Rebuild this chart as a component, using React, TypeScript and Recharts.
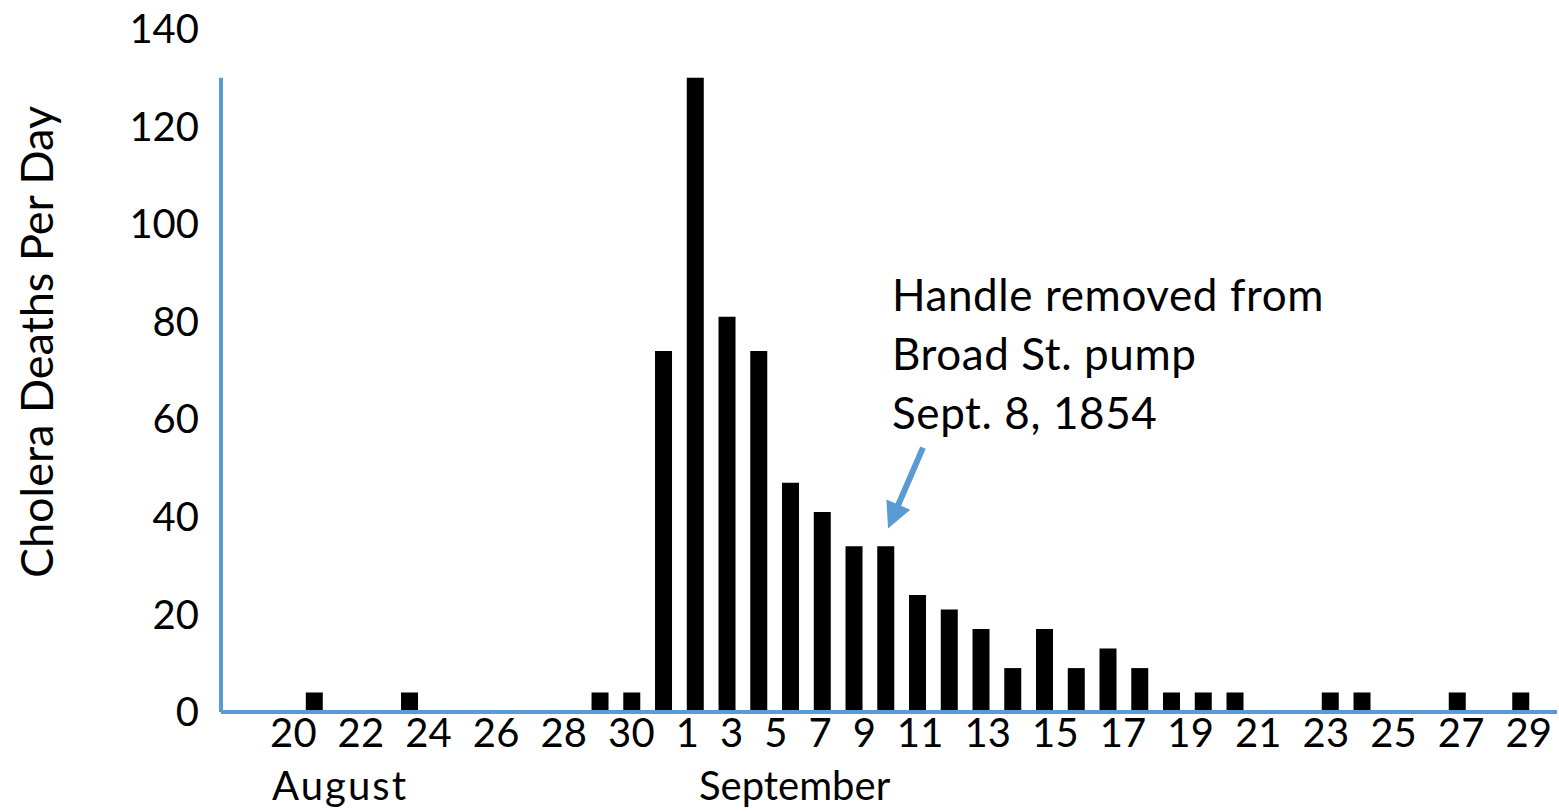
import { BarChart, Bar, XAxis, YAxis, ReferenceLine } from 'recharts'

// bars; day = day number counted from Aug 1 (Sep n = 31 + n)
const dates = [
  'Aug 20', 'Aug 23', 'Aug 29', 'Aug 30', 'Aug 31',
  'Sep 1', 'Sep 2', 'Sep 3', 'Sep 4', 'Sep 5', 'Sep 6', 'Sep 7', 'Sep 8', 'Sep 9',
  'Sep 10', 'Sep 11', 'Sep 12', 'Sep 13', 'Sep 14', 'Sep 15', 'Sep 16', 'Sep 17', 'Sep 18',
  'Sep 21', 'Sep 22', 'Sep 25', 'Sep 27',
]
const dayNumbers = [
  20, 23, 29, 30, 31,
  32, 33, 34, 35, 36, 37, 38, 39, 40,
  41, 42, 43, 44, 45, 46, 47, 48, 49,
  52, 53, 56, 58,
]
const deaths = [
  4, 4, 4, 4, 74,
  130, 81, 74, 47, 41, 34, 34, 24, 21,
  17, 9, 17, 9, 13, 9, 4, 4, 4,
  4, 4, 4, 4,
]

const yTicks = [0, 20, 40, 60, 80, 100, 120, 140]
const dayLabels = ['20', '22', '24', '26', '28', '30', '1', '3', '5', '7', '9', '11', '13', '15', '17', '19', '21', '23', '25', '27', '29']
const monthLabels = ['August', 'September']
const noteLines = ['Handle removed from', 'Broad St. pump', 'Sept. 8, 1854']

const xDomain: [number, number] = [17.05, 59.13]
const yAxisTop = 130
const arrowTail = { day: 39.16, deaths: 54.2 }
const arrowTip = { day: 38.06, deaths: 37.6 }

const BLUE = '#5b9bd5'

const data = dates.map((date, i) => ({ date, day: dayNumbers[i], deaths: deaths[i] }))

function DayLabels({ viewBox }: any) {
  const { x, y } = viewBox
  return (
    <g fill="#000">
      <text x={x + 49} y={y + 35} fontSize={40} textLength={1282} lengthAdjust="spacing" style={{ whiteSpace: 'pre' }}>
        {dayLabels.join('  ')}
      </text>
      <text x={x + 51} y={y + 88} fontSize={40} textLength={134} lengthAdjust="spacing">{monthLabels[0]}</text>
      <text x={x + 478} y={y + 88} fontSize={40}>{monthLabels[1]}</text>
    </g>
  )
}

function YTitle() {
  return (
    <text x={53} y={342} fontSize={45} fill="#000" textAnchor="middle" transform="rotate(-90, 53, 342)">
      Cholera Deaths Per Day
    </text>
  )
}

function Arrow(props: any) {
  const { x1, y1, x2, y2 } = props
  const dx = x2 - x1
  const dy = y2 - y1
  const len = Math.sqrt(dx * dx + dy * dy)
  const ux = dx / len
  const uy = dy / len
  const head = 26
  const half = 13
  const bx = x2 - ux * head
  const by = y2 - uy * head
  return (
    <g>
      <line x1={x1} y1={y1} x2={bx + ux * 2} y2={by + uy * 2} stroke={BLUE} strokeWidth={6} />
      <polygon
        points={`${x2},${y2} ${bx - uy * half},${by + ux * half} ${bx + uy * half},${by - ux * half}`}
        fill={BLUE}
      />
      <g fill="#000" fontSize={44} letterSpacing={0.6}>
        {noteLines.map((line, i) => (
          <text key={line} x={x1 - 31} y={y1 - 137 + i * 59}>{line}</text>
        ))}
      </g>
    </g>
  )
}

export default function App() {
  return (
    <div style={{ position: 'absolute', left: 0, top: 0, fontFamily: 'Lato, sans-serif', background: '#fff' }}>
      <BarChart width={1559} height={812} data={data} margin={{ top: 29, right: 2, left: 0, bottom: 0 }}>
        <XAxis
          dataKey="day"
          type="number"
          domain={xDomain}
          allowDataOverflow
          tick={false}
          tickLine={false}
          height={100}
          axisLine={{ stroke: BLUE, strokeWidth: 4 }}
          label={<DayLabels />}
        />
        <YAxis
          type="number"
          domain={[0, 140]}
          ticks={yTicks}
          width={221}
          axisLine={false}
          tickLine={false}
          tickSize={0}
          tickMargin={22}
          tick={{ fill: '#000', fontSize: 40 }}
          label={<YTitle />}
        />
        <Bar dataKey="deaths" fill="#000" barSize={17} isAnimationActive={false} />
        <ReferenceLine
          segment={[{ x: xDomain[0], y: 0 }, { x: xDomain[0], y: yAxisTop }]}
          stroke={BLUE}
          strokeWidth={4}
        />
        <ReferenceLine
          segment={[{ x: arrowTail.day, y: arrowTail.deaths }, { x: arrowTip.day, y: arrowTip.deaths }]}
          shape={<Arrow />}
        />
      </BarChart>
    </div>
  )
}
